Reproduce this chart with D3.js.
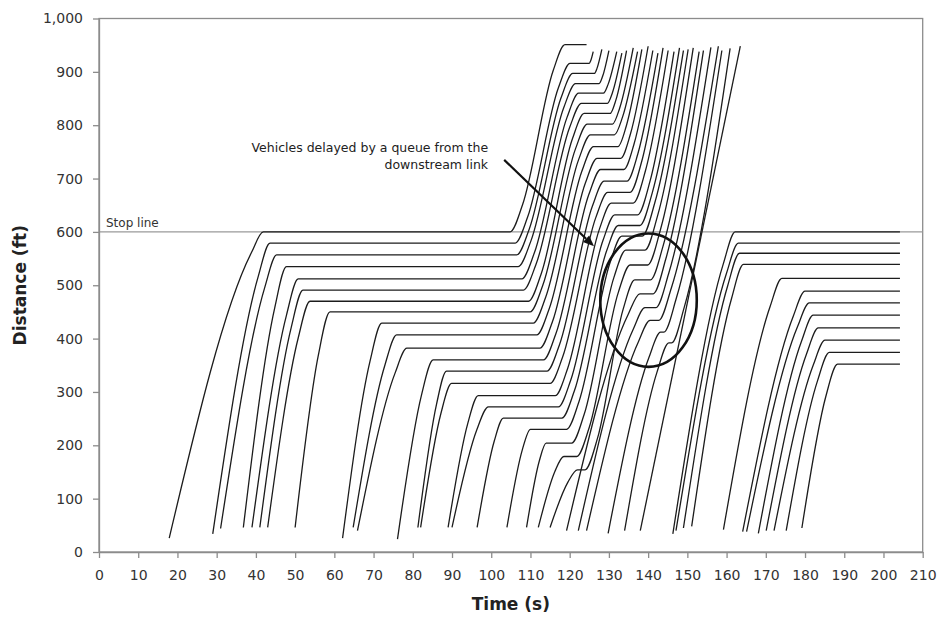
<!DOCTYPE html>
<html><head><meta charset="utf-8">
<script src="https://cdn.jsdelivr.net/npm/d3@7"></script>
<style>body{margin:0;background:#fff}svg{display:block}</style>
</head><body><svg id="c" width="937" height="617"></svg>
<script>
// ---- axis tick values ----
const xTickValues = [0,10,20,30,40,50,60,70,80,90,100,110,120,130,140,150,160,170,180,190,200,210];
const yTickValues = [0,100,200,300,400,500,600,700,800,900,1000];
const stopLineDist = 600;

// ---- vehicle trajectories (time s, distance ft), one entry per vehicle ----
const entryTime = [17.9,29.0,31.0,36.8,39.0,41.0,43.0,50.0,
  62.1,64.8,65.9,
  76.1,81.3,82.0,89.0,90.0,96.4,
  104.0,109.0,112.0,115.0,
  119.2,122.2,124.3,
  129.8,134.0,138.0,
  146.3,147.1,149.0,151.1,
  159.2,164.1,165.1,168.1,170.1,172.1,175.2,179.2];
const entryDist = [26,34,44,46,46,46,46,46,
  26,46,40,
  24,46,46,46,46,46,
  46,46,46,46,
  40,40,40,
  35,40,40,
  34,40,45,48,
  42,38,38,35,40,40,40,45];
// upstream queue at the stop line (arrival, departure, position)
const queueArrive = [41.9,43.6,45.3,47.8,50.8,52.0,53.8,58.9,
  72.1,75.9,78.5,
  85.2,88.6,89.9,96.7,99.3,103.1,
  110.0,114.0,118.5,122.0,
  null,null,null,
  null,null,null,
  162.2,163.0,163.3,164.3,
  174.1,180.0,181.1,182.1,183.4,185.1,186.2,188.3];
const queueDepart = [104.8,106.1,106.5,106.9,107.8,108.2,109.5,109.9,
  110.7,111.6,112.4,
  113.3,114.2,115.0,116.3,117.1,118.0,
  119.2,120.5,121.8,123.9,
  null,null,null,
  null,null,null,
  204.2,204.2,204.2,204.2,
  204.2,204.2,204.2,204.2,204.2,204.2,204.2,204.2];
const queueDist = [600,579,557,535,512,491,470,450,
  429,407,382,
  360,339,316,293,272,251,
  230,204,179,154,
  null,null,null,
  null,null,null,
  600,579,560,539,
  513,489,467,444,420,397,374,352];
// queue from the downstream link (arrival, departure, position)
const spillArrive = [118.8,120.1,120.8,121.5,122.3,123.0,123.7,124.5,
  125.3,126.1,127.0,
  127.9,128.8,129.7,130.6,131.5,132.4,
  133.3,134.3,135.4,136.6,
  137.9,139.2,140.5,
  143.2,145.3,null,
  null,null,null,null,
  null,null,null,null,null,null,null,null];
const spillDepart = [124.3,125.0,126.3,127.5,128.6,129.6,130.3,130.9,
  131.4,132.3,133.0,
  133.8,134.6,135.4,136.2,137.3,137.9,
  138.5,139.2,139.9,140.6,
  141.3,142.0,142.7,
  144.0,146.0,null,
  null,null,null,null,
  null,null,null,null,null,null,null,null];
const spillDist = [951,916,897,878,860,841,822,802,
  782,760,738,
  717,695,674,654,632,612,
  592,566,538,510,
  484,458,434,
  412,392,null,
  null,null,null,null,
  null,null,null,null,null,null,null,null];
// last recorded point
const exitTime = [null,126.0,128.2,130.0,132.0,133.3,134.5,136.2,
  137.3,138.4,140.0,
  141.2,142.5,143.8,145.1,146.6,148.0,
  149.0,150.2,151.5,153.0,
  154.1,156.0,157.9,
  158.8,160.9,163.5,
  null,null,null,null,
  null,null,null,null,null,null,null,null];
const exitDist = [null,938,942,940,938,935,940,945,
  938,942,948,
  940,935,945,940,938,945,
  940,942,945,938,
  940,946,948,
  940,944,948,
  null,null,null,null,
  null,null,null,null,null,null,null,null];

// annotation
const noteLines = ["Vehicles delayed by a queue from the", "downstream link"];
const stopLabel = "Stop line";

// ---------------- drawing ----------------
const svg = d3.select('#c');
const x = d3.scaleLinear().domain([0,210]).range([99,922.7]);
const y = d3.scaleLinear().domain([0,1000]).range([552,18.5]);
const FONT = "'DejaVu Sans', Verdana, sans-serif";
const AXC = '#8c8c8c';

// frame
svg.append('rect').attr('x',x(0)).attr('y',y(1000)).attr('width',x(210)-x(0)).attr('height',y(0)-y(1000))
  .attr('fill','none').attr('stroke',AXC).attr('stroke-width',1.3);

// stop line
svg.append('line').attr('x1',x(0)).attr('x2',x(210)).attr('y1',y(stopLineDist)).attr('y2',y(stopLineDist))
  .attr('stroke','#9a9a9a').attr('stroke-width',1.2);
svg.append('text').attr('x',x(0)+7).attr('y',y(stopLineDist)-5).text(stopLabel)
  .attr('font-family',FONT).attr('font-size',12).attr('fill','#333');

// build trajectories
function buildPoints(i){
  const a = [{t:entryTime[i], d:entryDist[i]}];
  if (queueDist[i] != null){
    a.push({t:queueArrive[i], d:queueDist[i], s:1});
    a.push({t:queueDepart[i], d:queueDist[i], e:1});
  }
  if (spillDist[i] != null){
    a.push({t:spillArrive[i], d:spillDist[i], s:1});
    a.push({t:spillDepart[i], d:spillDist[i], e:1});
  }
  if (exitTime[i] != null) a.push({t:exitTime[i], d:exitDist[i]});
  const pts = [[a[0].t, a[0].d]];
  for (let k=1;k<a.length;k++){
    const A=a[k-1], B=a[k];
    if (A.s && B.e){ pts.push([B.t,B.d]); continue; }
    const T = B.t - A.t;
    const ta = A.e ? Math.min(3.2, 0.35*T) : 0;
    const td = B.s ? Math.min(3.0, 0.35*T) : 0;
    const u = (B.d - A.d)/(T - ta/2 - td/2);
    if (ta>0) pts.push([A.t+ta, A.d + u*ta/2]);
    if (td>0) pts.push([B.t-td, B.d - u*td/2]);
    pts.push([B.t,B.d]);
  }
  return pts;
}
const line = d3.line().x(p=>x(p[0])).y(p=>y(p[1])).curve(d3.curveMonotoneX);
const gT = svg.append('g');
entryTime.forEach((_,i)=>{
  gT.append('path').attr('d', line(buildPoints(i)))
    .attr('fill','none').attr('stroke','#1c1c1c').attr('stroke-width',1.3);
});

// ellipse highlighting delayed vehicles
const ell = {t:140.1, d:472, rt:12.3, rd:125};
svg.append('ellipse').attr('cx',x(ell.t)).attr('cy',y(ell.d))
  .attr('rx',x(ell.rt)-x(0)).attr('ry',y(0)-y(ell.rd))
  .attr('fill','none').attr('stroke','#111').attr('stroke-width',2.6);

// annotation text and arrow
const noteAnchor = {t:99.2, d:750};
noteLines.forEach((s,k)=>{
  svg.append('text').attr('x',x(noteAnchor.t)).attr('y',y(noteAnchor.d)+k*17)
    .attr('text-anchor','end').attr('font-family',FONT).attr('font-size',12.5).attr('fill','#222').text(s);
});
const arrowFrom = {t:103.3, d:735}, arrowTo = {t:126.2, d:573};
const x1=x(arrowFrom.t), y1=y(arrowFrom.d), x2=x(arrowTo.t), y2=y(arrowTo.d);
const ang = Math.atan2(y2-y1, x2-x1), L=11, W=4.5;
const bx = x2 - L*Math.cos(ang), by = y2 - L*Math.sin(ang);
svg.append('line').attr('x1',x1).attr('y1',y1).attr('x2',bx).attr('y2',by)
  .attr('stroke','#111').attr('stroke-width',2.2);
svg.append('path').attr('d',`M${x2},${y2}L${bx+W*Math.sin(ang)},${by-W*Math.cos(ang)}L${bx-W*Math.sin(ang)},${by+W*Math.cos(ang)}Z`)
  .attr('fill','#111');

// axes
const gx = svg.append('g').attr('transform',`translate(0,${y(0)})`)
  .call(d3.axisBottom(x).tickValues(xTickValues).tickSize(6).tickSizeOuter(0).tickPadding(12).tickFormat(d3.format('d')));
const gy = svg.append('g').attr('transform',`translate(${x(0)},0)`)
  .call(d3.axisLeft(y).tickValues(yTickValues).tickSize(6).tickSizeOuter(0).tickPadding(10).tickFormat(d3.format(',')));
[gx,gy].forEach(g=>{
  g.attr('font-family',FONT).attr('font-size',14).attr('color','#333');
  g.selectAll('path,line').attr('stroke',AXC).attr('stroke-width',1.3);
});

// axis titles
svg.append('text').attr('x',(x(0)+x(210))/2).attr('y',610).attr('text-anchor','middle')
  .attr('font-family',FONT).attr('font-weight','bold').attr('font-size',17).attr('fill','#222').text('Time (s)');
svg.append('text').attr('transform',`translate(26,${(y(0)+y(1000))/2}) rotate(-90)`).attr('text-anchor','middle')
  .attr('font-family',FONT).attr('font-weight','bold').attr('font-size',17).attr('fill','#222').text('Distance (ft)');
</script></body></html>
